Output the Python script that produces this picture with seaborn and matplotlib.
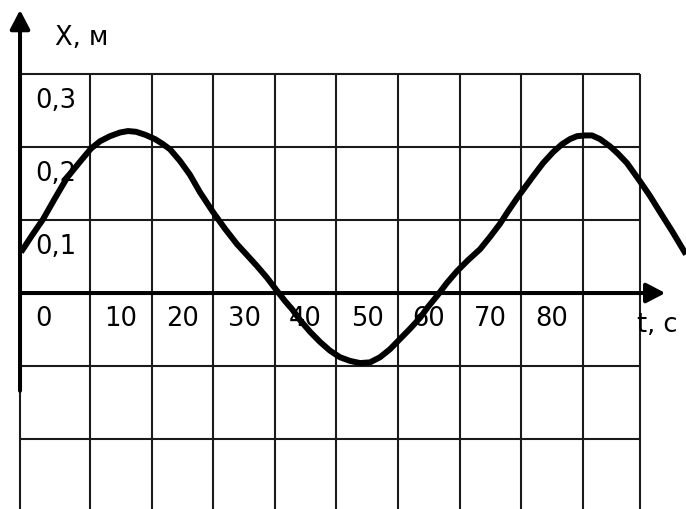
import matplotlib
matplotlib.use("Agg")
import matplotlib.pyplot as plt
import numpy as np
import pandas as pd
import seaborn as sns

# Displacement x (m) of the oscillating body against time t (s)
t_values = [-1.20, 0.58, 2.37, 4.32, 6.27, 8.38, 10.16, 11.62, 13.25, 14.87,
            16.17, 17.47, 18.93, 20.55, 21.69, 22.99, 24.61, 26.23, 27.86, 29.97,
            31.92, 33.86, 35.49, 37.11, 38.73, 40.36, 41.66, 42.79, 44.09, 45.71,
            47.34, 48.96, 50.58, 52.21, 53.83, 55.45, 57.08, 58.70, 60.32, 61.95,
            63.57, 64.87, 66.33, 67.95, 69.58, 71.36, 73.31, 74.94, 76.56, 77.86,
            79.32, 80.62, 81.92, 83.54, 85.16, 86.62, 87.92, 89.06, 90.36, 91.49,
            92.79, 94.42, 95.71, 97.18, 99.29, 100.91, 102.53, 104.48, 106.75]
x_values = [0.056, 0.079, 0.101, 0.130, 0.158, 0.180, 0.198, 0.208, 0.215, 0.220,
            0.222, 0.221, 0.217, 0.211, 0.205, 0.197, 0.181, 0.162, 0.138, 0.111,
            0.088, 0.067, 0.052, 0.037, 0.021, 0.003, -0.011, -0.022, -0.037, -0.053,
            -0.067, -0.079, -0.088, -0.093, -0.096, -0.095, -0.088, -0.077, -0.063, -0.049,
            -0.034, -0.019, -0.004, 0.014, 0.030, 0.045, 0.060, 0.077, 0.095, 0.112,
            0.130, 0.145, 0.160, 0.178, 0.193, 0.204, 0.211, 0.215, 0.216, 0.216,
            0.211, 0.201, 0.191, 0.178, 0.153, 0.133, 0.111, 0.085, 0.053]

# Grid and tick labels
t_grid = [10, 20, 30, 40, 50, 60, 70, 80, 90]
x_grid = [0.3, 0.2, 0.1, -0.1, -0.2]
t_tick_labels = ["0", "10", "20", "30", "40", "50", "60", "70", "80"]
x_tick_labels = ["0,3", "0,2", "0,1"]
x_tick_values = [0.3, 0.2, 0.1]

# Extent of the drawing area
T_MIN, T_MAX = -4.61, 106.75
X_MIN, X_MAX = -0.296, 0.403
GRID_LEFT, GRID_RIGHT, GRID_TOP = -1.36, 99.29, 0.3

sns.set_theme(style="white")
plt.rcParams["font.family"] = ["DejaVu Sans"]

fig = plt.figure(figsize=(6.86, 5.10), dpi=100)
ax = fig.add_axes([0, 0, 1, 1])
ax.set_xlim(T_MIN, T_MAX)
ax.set_ylim(X_MIN, X_MAX)
ax.axis("off")

grid_kw = dict(color="#1a1a1a", lw=1.5, zorder=1, solid_capstyle="butt")
for tg in t_grid + [GRID_LEFT, GRID_RIGHT]:
    ax.plot([tg, tg], [X_MIN, GRID_TOP], **grid_kw)
for xg in x_grid:
    ax.plot([GRID_LEFT, GRID_RIGHT], [xg, xg], **grid_kw)

# Coordinate axes with arrowheads
arrow_kw = dict(arrowstyle="-|>,head_length=1.15,head_width=0.6", color="black",
                lw=2.9, mutation_scale=10, shrinkA=0, shrinkB=0)
ax.annotate("", xy=(GRID_LEFT, 0.388), xytext=(GRID_LEFT, -0.134),
            arrowprops=arrow_kw, zorder=3)
ax.annotate("", xy=(103.4, 0.0), xytext=(GRID_LEFT, 0.0),
            arrowprops=arrow_kw, zorder=3)

# The oscillation curve
df = pd.DataFrame({"t": t_values, "x": x_values})
sns.lineplot(data=df, x="t", y="x", ax=ax, color="black", lw=4.3,
             estimator=None, sort=False, zorder=4,
             solid_joinstyle="round", solid_capstyle="butt")

fs = 18.5
for lab, val in zip(x_tick_labels, x_tick_values):
    ax.text(1.07, val - 0.045, lab, fontsize=fs, ha="left", va="baseline",
            color="black", zorder=2)
for i, lab in enumerate(t_tick_labels):
    if i == 0:
        ax.text(1.07, -0.0438, lab, fontsize=fs, ha="left", va="baseline",
                color="black", zorder=2)
    else:
        ax.text(i * 10 + 5, -0.0438, lab, fontsize=fs, ha="center",
                va="baseline", color="black", zorder=2)

ax.text(4.32, 0.341, "X, м", fontsize=fs, ha="left", va="baseline", color="black")
ax.text(98.8, -0.052, "t, с", fontsize=fs, ha="left", va="baseline", color="black")

fig.savefig("out.png", dpi=100)
